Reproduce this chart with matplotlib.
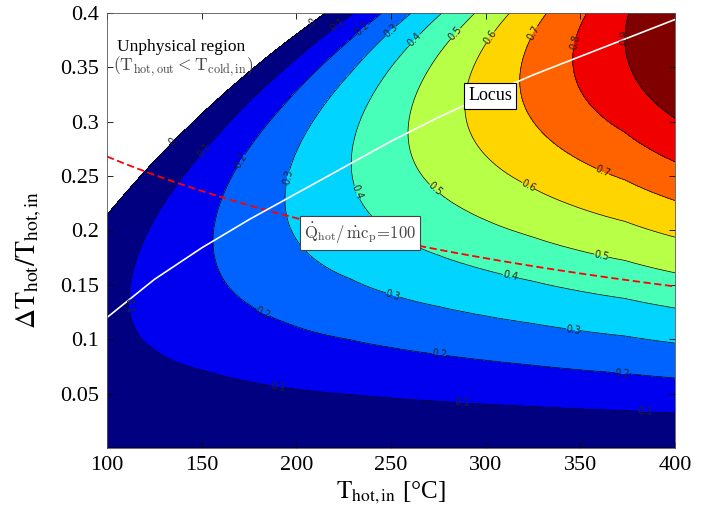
import matplotlib
matplotlib.use("Agg")
import matplotlib.pyplot as plt
import numpy as np

plt.rcParams["font.family"] = ["Liberation Serif", "DejaVu Serif"]
plt.rcParams["mathtext.fontset"] = "stix"

# operating conditions [degC] and the heat-duty line shown on the map
T_COLD_IN = 20.0
Q_PER_MCP = 100.0

# locus of the optimum dT/T for each inlet temperature
locus_t = np.array([100, 125, 150, 175, 200, 225, 250, 275, 300, 325, 350, 375, 400])
locus_r = np.array([0.12, 0.155, 0.184, 0.210, 0.234, 0.258, 0.282, 0.304, 0.324, 0.343, 0.360, 0.377, 0.394])

# value reached on the locus
peak_t = np.array([100, 111.6, 156, 194, 229, 259, 289, 318, 346, 373.5, 400])
peak_val = np.array([0.074, 0.1, 0.2, 0.3, 0.4, 0.5, 0.6, 0.7, 0.8, 0.9, 1.02])

levels = [0, 0.1, 0.2, 0.3, 0.4, 0.5, 0.6, 0.7, 0.8, 0.9]

# where the contour labels sit (T_hot,in, dT/T)
label_pos = [
    (134.9, 0.281), (208.3, 0.392),
    (150.7, 0.274), (221.5, 0.389), (110.6, 0.131), (189.8, 0.0506), (287.5, 0.0368), (384.2, 0.0303),
    (170.2, 0.265), (235.7, 0.384), (180.8, 0.1195), (274.8, 0.079), (372.0, 0.0653),
    (195.1, 0.249), (249.5, 0.384), (249.5, 0.133), (345.6, 0.103),
    (229.9, 0.2336), (261.6, 0.377), (311.8, 0.150),
    (285.4, 0.379), (271.7, 0.235), (360.4, 0.171),
    (302.3, 0.378), (320.8, 0.235),
    (326.1, 0.3816), (360.4, 0.249),
    (347.2, 0.373),
    (374.1, 0.378),
]


def jet(x):
    # classic MATLAB jet
    x = np.asarray(x)[:, None]
    rgb = np.clip(1.5 - np.abs(4 * x - np.array([3, 2, 1])), 0, 1)
    return np.hstack([rgb, np.ones((len(rgb), 1))])


def shape_exponent(s_peak):
    # exponent n so that s*(1 - s**n) peaks at s_peak
    n = np.linspace(0.5, 12, 4000)
    sp = (n + 1) ** (-1.0 / n)
    return np.interp(s_peak, sp, n)


t = np.linspace(100, 400, 601)
r = np.linspace(0, 0.4, 401)
T, R = np.meshgrid(t, r)

# outlet hits the cold inlet temperature at r_max
r_max = 1 - (T_COLD_IN + 273.15) / (T + 273.15)
s = R / r_max
s_peak = np.interp(T, locus_t, locus_r) / r_max
n = shape_exponent(s_peak)
amp = np.interp(T, peak_t, peak_val) / (s_peak * n / (n + 1))
Z = amp * s * (1 - s ** n)

fig = plt.figure(figsize=(7.12, 5.15), dpi=100)
ax = fig.add_axes([0.1503, 0.1301, 0.7977, 0.8447])

colors = jet(np.linspace(0, 1, 10))
ax.contourf(T, R, Z, levels=levels + [1.5], colors=colors)
cs = ax.contour(T, R, Z, levels=levels, colors="k", linewidths=0.5)
labels = ax.clabel(cs, levels, manual=label_pos, fontsize=7, fmt="%g",
                   inline=True, inline_spacing=1)
for txt in labels:
    txt.set_family("DejaVu Sans")
    txt.set_color("#222222")

r_duty = Q_PER_MCP / (t + 273.15)
ax.plot(t, r_duty, color="red", lw=1.3, dashes=(4, 2))
ax.plot(locus_t, locus_r, color="white", lw=1.2)

ax.text(105.5, 0.369, "Unphysical region", fontsize=12.5, va="center", ha="left")
ax.text(103.2, 0.351, r"$(\mathrm{T_{hot,out}} < \mathrm{T_{cold,in}})$", fontsize=12.5,
        va="center", ha="left", color="#444444", math_fontfamily="cm")

ax.text(302.3, 0.3237, "Locus", fontsize=13, ha="center", va="center",
        bbox=dict(boxstyle="square,pad=0.25", fc="white", ec="black", lw=0.8), zorder=5)
ax.text(233.6, 0.1977, r"$\dot{\mathrm{Q}}_{\mathrm{hot}}/\,\dot{\mathrm{m}}\mathrm{c_p}\!=\!100$",
        fontsize=12, ha="center", va="center", color="#444444", math_fontfamily="cm",
        bbox=dict(boxstyle="square,pad=0.25", fc="white", ec="#444444", lw=0.8), zorder=5)

ax.set_xlim(100, 400)
ax.set_ylim(0, 0.4)
ax.set_xticks([100, 150, 200, 250, 300, 350, 400])
ax.set_yticks([0.05, 0.1, 0.15, 0.2, 0.25, 0.3, 0.35, 0.4])
ax.set_yticklabels(["0.05", "0.1", "0.15", "0.2", "0.25", "0.3", "0.35", "0.4"])
ax.tick_params(direction="in", length=4.5, width=0.6, labelsize=16,
               top=True, right=True, pad=6)
for sp in ax.spines.values():
    sp.set_linewidth(0.6)
    sp.set_color("#555555")

ax.set_xlabel(r"$\mathrm{T_{hot,in}}$ [°C]", fontsize=18, labelpad=3)
ax.set_ylabel(r"$\Delta\mathrm{T_{hot}/T_{hot,in}}$", fontsize=20)
ax.yaxis.set_label_coords(-0.111, 0.432)

fig.savefig("out.png", dpi=100)
